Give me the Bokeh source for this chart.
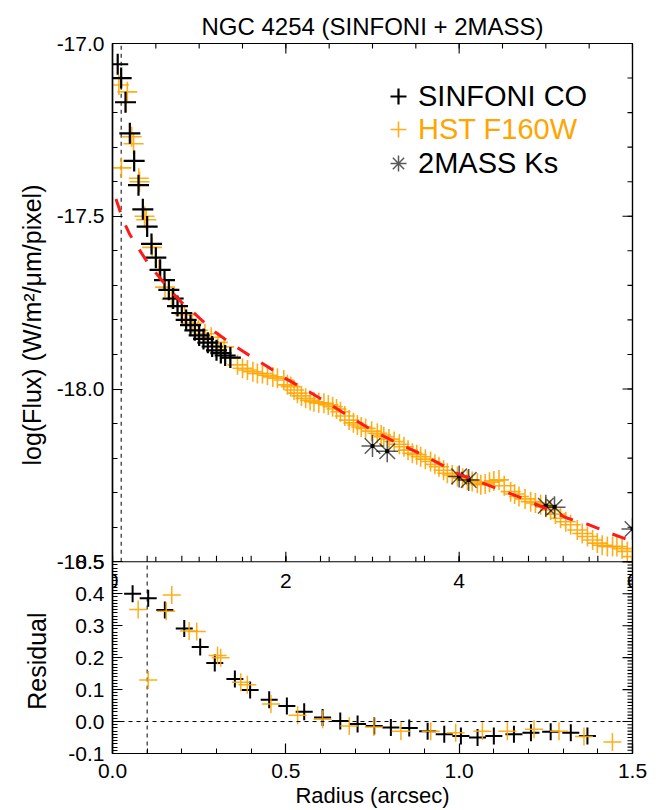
import math
from bokeh.plotting import figure
from bokeh.models import (Range1d, LinearAxis, FixedTicker, PrintfTickFormatter,
                          Span, Legend, LegendItem, GridBox, Label, Title)
from bokeh.embed import file_html
from bokeh.resources import INLINE

FONT = "Liberation Sans"
ORANGE = "#ffa500"
RED = "#ff1a1a"

# ---------------- data ----------------
# SINFONI CO surface brightness (top panel)
sinf_r = [0.06, 0.10, 0.15, 0.20, 0.25, 0.30, 0.35, 0.40, 0.45, 0.50, 0.55, 0.60,
          0.65, 0.70, 0.75, 0.80, 0.85, 0.90, 0.95, 1.00, 1.05, 1.10, 1.15, 1.20,
          1.25, 1.30, 1.36]
sinf_logf = [-17.06, -17.10, -17.17, -17.26, -17.34, -17.41, -17.48, -17.53, -17.58,
             -17.62, -17.655, -17.685, -17.713, -17.738, -17.76, -17.78, -17.80,
             -17.815, -17.83, -17.845, -17.855, -17.866, -17.877, -17.888, -17.896,
             -17.903, -17.909]

# HST F160W surface brightness (top panel)
hst_r = [0.074, 0.103, 0.155, 0.171, 0.221, 0.243, 0.303, 0.312, 0.370, 0.389, 0.457,
         0.534, 0.606, 0.683, 0.754, 0.832, 0.918, 0.990, 1.067, 1.139, 1.216, 1.288,
         1.360, 1.442, 1.50, 1.557, 1.62, 1.672, 1.73, 1.788, 1.85, 1.903, 1.977,
         2.018, 2.056, 2.095, 2.134, 2.18, 2.229, 2.28, 2.325, 2.38, 2.44, 2.49, 2.54,
         2.585, 2.63, 2.68, 2.73, 2.78, 2.826, 2.87, 2.92, 2.99, 3.056, 3.10, 3.13,
         3.19, 3.25, 3.31, 3.363, 3.41, 3.46, 3.51, 3.556, 3.61, 3.67, 3.72, 3.767,
         3.82, 3.864, 3.92, 3.98, 4.04, 4.095, 4.15, 4.21, 4.25, 4.30, 4.35, 4.40,
         4.46, 4.52, 4.594, 4.64, 4.69, 4.76, 4.825, 4.88, 4.94, 5.00, 5.055, 5.11,
         5.17, 5.23, 5.286, 5.363, 5.42, 5.48, 5.54, 5.594, 5.65, 5.71, 5.77, 5.82,
         5.88, 5.94, 6.00]
hst_logf = [-17.12, -17.36, -17.17, -17.14, -17.27, -17.29, -17.39, -17.40, -17.50,
            -17.51, -17.59, -17.655, -17.705, -17.74, -17.76, -17.785, -17.81, -17.83,
            -17.84, -17.85, -17.865, -17.878, -17.91, -17.93, -17.94, -17.945, -17.95,
            -17.955, -17.955, -17.96, -17.965, -17.969, -17.974, -17.988, -17.993,
            -18.003, -18.012, -18.02, -18.027, -18.033, -18.037, -18.04, -18.041,
            -18.046, -18.051, -18.058, -18.066, -18.078, -18.09, -18.098, -18.104,
            -18.11, -18.114, -18.122, -18.128, -18.133, -18.138, -18.145, -18.152,
            -18.16, -18.167, -18.177, -18.186, -18.19, -18.196, -18.203, -18.21,
            -18.218, -18.225, -18.235, -18.244, -18.249, -18.253, -18.258, -18.263,
            -18.268, -18.273, -18.277, -18.275, -18.27, -18.266, -18.263, -18.28,
            -18.297, -18.304, -18.311, -18.318, -18.326, -18.33, -18.335, -18.342,
            -18.35, -18.362, -18.374, -18.384, -18.393, -18.408, -18.418, -18.427,
            -18.437, -18.446, -18.452, -18.456, -18.456, -18.456, -18.462, -18.47,
            -18.485]

# 2MASS Ks surface brightness (top panel)
tmass_r = [3.00, 3.17, 4.00, 4.11, 5.00, 5.10, 6.00]
tmass_logf = [-18.165, -18.18, -18.253, -18.263, -18.338, -18.342, -18.405]

# model profile (red dashed line)
model_r = [0.04, 0.08, 0.12, 0.20, 0.30, 0.40, 0.50, 0.60, 0.70, 0.80, 0.90, 1.00,
           1.20, 1.40, 1.60, 1.80, 2.00, 2.25, 2.50, 2.75, 3.00, 3.25, 3.50, 3.75,
           4.00, 4.25, 4.50, 4.75, 5.00, 5.25, 5.50, 5.75, 6.00]
model_logf = [-17.45, -17.48, -17.51, -17.553, -17.593, -17.632, -17.664, -17.695,
              -17.724, -17.75, -17.77, -17.794, -17.838, -17.874, -17.906, -17.937,
              -17.97, -18.005, -18.043, -18.082, -18.12, -18.152, -18.181, -18.213,
              -18.247, -18.27, -18.294, -18.318, -18.346, -18.374, -18.393, -18.418,
              -18.441]

# residuals (bottom panel)
res_sinf_r = [0.058, 0.103, 0.151, 0.207, 0.253, 0.295, 0.353, 0.397, 0.452, 0.503,
              0.553, 0.606, 0.657, 0.707, 0.755, 0.803, 0.856, 0.909, 0.957, 1.005,
              1.053, 1.100, 1.158, 1.207, 1.264, 1.322, 1.370]
res_sinf = [0.400, 0.386, 0.349, 0.291, 0.233, 0.183, 0.133, 0.099, 0.068, 0.049,
            0.031, 0.013, 0.002, -0.008, -0.014, -0.019, -0.020, -0.030, -0.040,
            -0.045, -0.050, -0.045, -0.040, -0.035, -0.032, -0.035, -0.045]
res_hst_r = [0.074, 0.103, 0.155, 0.171, 0.221, 0.243, 0.303, 0.312, 0.370, 0.389,
             0.457, 0.534, 0.606, 0.683, 0.754, 0.832, 0.918, 0.990, 1.067, 1.139,
             1.216, 1.288, 1.360, 1.442]
res_hst = [0.351, 0.130, 0.345, 0.396, 0.283, 0.282, 0.207, 0.200, 0.123, 0.115,
           0.055, 0.020, 0.007, -0.014, -0.017, -0.030, -0.030, -0.035, -0.030,
           -0.030, -0.024, -0.030, -0.047, -0.064]

psf_radius = 0.1
zero_level = 0.0

# ticks / labels
top_x_range = (0.0, 6.0)
top_y_range = (-18.5, -17.0)
res_x_range = (0.0, 1.5)
res_y_range = (-0.1, 0.5)
top_xticks = [0, 2, 4, 6]
top_xtick_labels = ["0", "2", "4", "6"]
top_xminor = [0.5 * i for i in range(13)]
top_yticks = [-18.5, -18.0, -17.5, -17.0]
top_yminor = [round(-18.5 + 0.1 * i, 2) for i in range(16)]
res_xticks = [0.0, 0.5, 1.0, 1.5]
res_xminor = [round(0.1 * i, 2) for i in range(16)]
res_yticks = [-0.1, 0.0, 0.1, 0.2, 0.3, 0.4, 0.5]
res_yminor = [round(-0.1 + 0.01 * i, 3) for i in range(61)]

TITLE = "NGC 4254 (SINFONI + 2MASS)"
YLABEL_TOP = "log(Flux) (W/m²/μm/pixel)"
YLABEL_RES = "Residual"
XLABEL = "Radius (arcsec)"

TICK_FS = "21px"
LABEL_FS = "22px"
YLABEL_FS = "25px"

# ---------------- layout constants (pixels) ----------------
W, H = 663, 810
FRAME_L, FRAME_R, FRAME_T, FRAME_B = 112, 632, 43, 754
SPLIT = 562                       # boundary between the two panels
H_TOP = SPLIT - FRAME_T
H_RES = FRAME_B - SPLIT
YLABEL_TOP_END = 184              # upper end of the rotated y labels (px)
YLABEL_RES_END = 612

# extend each panel's y range so both figures share one frame
top_scale = (top_y_range[1] - top_y_range[0]) / H_TOP
res_scale = (res_y_range[1] - res_y_range[0]) / H_RES
top_y_full = (top_y_range[0] - H_RES * top_scale, top_y_range[1])
res_y_full = (res_y_range[0], res_y_range[1] + H_TOP * res_scale)


def make_axis(ticks, minor, fmt, label=None, standoff=8, label_standoff=10):
    ax = LinearAxis(ticker=FixedTicker(ticks=ticks, minor_ticks=minor),
                    formatter=PrintfTickFormatter(format=fmt))
    ax.major_tick_in = 10
    ax.major_tick_out = 0
    ax.minor_tick_in = 5
    ax.minor_tick_out = 0
    ax.axis_line_color = "black"
    ax.axis_line_width = 1.2
    ax.major_tick_line_color = "black"
    ax.minor_tick_line_color = "black"
    ax.major_tick_line_width = 1.2
    ax.minor_tick_line_width = 1.0
    ax.major_label_text_font = FONT
    ax.major_label_text_font_size = TICK_FS
    ax.major_label_text_color = "black"
    ax.major_label_standoff = standoff
    if label:
        ax.axis_label = label
        ax.axis_label_text_font = FONT
        ax.axis_label_text_font_size = LABEL_FS
        ax.axis_label_text_font_style = "normal"
        ax.axis_label_text_color = "black"
        ax.axis_label_standoff = label_standoff
    return ax


def side_title(text, end_px, standoff):
    return Title(text=text, align="right", offset=end_px - FRAME_T,
                 vertical_align="bottom", standoff=standoff, text_font=FONT,
                 text_font_size=YLABEL_FS, text_font_style="normal",
                 text_color="black")


def tick_rays(p, xs, ys, angle, length):
    p.ray(x=xs, y=ys, angle=angle, length=length, length_units="screen",
          line_color="black", line_width=1.1)


def base_figure(xr, yr, transparent):
    p = figure(width=W, height=H, x_range=Range1d(*xr), y_range=Range1d(*yr),
               output_backend="svg", toolbar_location=None,
               x_axis_location=None, y_axis_location=None,
               min_border_left=FRAME_L, min_border_right=W - FRAME_R,
               min_border_top=FRAME_T, min_border_bottom=H - FRAME_B)
    p.grid.visible = False
    p.outline_line_color = "black"
    p.outline_line_width = 1.2
    if transparent:
        p.background_fill_color = None
        p.border_fill_color = None
    else:
        p.background_fill_color = "white"
        p.border_fill_color = "white"
    return p


# ---------------- top panel ----------------
top = base_figure(top_x_range, top_y_full, transparent=False)
top.title.text = TITLE
top.title.align = "center"
top.title.standoff = 8
top.title.text_font = FONT
top.title.text_font_size = "24px"
top.title.text_font_style = "normal"
top.title.text_color = "black"

top.add_layout(make_axis(top_yticks, top_yminor, "%.1f", standoff=8), "left")
top.add_layout(side_title(YLABEL_TOP, YLABEL_TOP_END, 16), "left")
for t, s in zip(top_xticks, top_xtick_labels):
    top.add_layout(Label(x=t, y=top_y_range[0], text=s, text_align="center",
                         text_baseline="top", y_offset=-12, text_font=FONT,
                         text_font_size=TICK_FS, text_color="black"))

# panel separator and inward ticks of the top panel
top.add_layout(Span(location=top_y_range[0], dimension="width", line_color="black",
                    line_width=1.2))
tick_rays(top, top_xticks, top_y_range[1], -math.pi / 2, 10)
tick_rays(top, top_xminor, top_y_range[1], -math.pi / 2, 5)
tick_rays(top, top_xticks, top_y_range[0], math.pi / 2, 10)
tick_rays(top, top_xminor, top_y_range[0], math.pi / 2, 5)
tick_rays(top, top_x_range[1], top_yticks, math.pi, 10)
tick_rays(top, top_x_range[1], top_yminor, math.pi, 5)

top.line([psf_radius, psf_radius], list(top_y_range), line_color="black",
         line_dash="4 4", line_width=1)

r_hst = top.scatter(hst_r, hst_logf, marker="cross", size=20, line_color=ORANGE,
                    line_width=1.6, line_alpha=0.9)
r_sinf = top.scatter(sinf_r, sinf_logf, marker="cross", size=21, line_color="black",
                     line_width=2.2)
r_2m = top.scatter(tmass_r, tmass_logf, marker="asterisk", size=22, line_color="black",
                   line_alpha=0.65, line_width=1.5)
top.scatter(tmass_r, tmass_logf, marker="square", size=3, fill_color="black",
            line_color="black")
top.line(model_r, model_logf, line_color=RED, line_width=3, line_dash="14 14")

legend_specs = [("SINFONI CO", r_sinf, "black", 97),
                ("HST F160W", r_hst, ORANGE, 130),
                ("2MASS Ks", r_2m, "black", 164)]
GLYPH = 40
LEG_X = 398
for lab, rend, col, cy in legend_specs:
    lg = Legend(items=[LegendItem(label=lab, renderers=[rend])],
                location=(LEG_X - GLYPH // 2 - FRAME_L, FRAME_B - (cy + GLYPH // 2)),
                border_line_color=None, background_fill_alpha=0, padding=0, margin=0,
                spacing=0, glyph_width=GLYPH, glyph_height=GLYPH, label_standoff=0,
                label_text_font=FONT, label_text_font_size="29px",
                label_text_color=col, label_height=GLYPH)
    top.add_layout(lg)

# ---------------- residual panel ----------------
bot = base_figure(res_x_range, res_y_full, transparent=True)
bot.add_layout(make_axis(res_yticks, res_yminor, "%.1f", standoff=8), "left")
bot.add_layout(side_title(YLABEL_RES, YLABEL_RES_END, 30), "left")
bot.add_layout(make_axis(res_xticks, res_xminor, "%.1f", label=XLABEL,
                         standoff=10, label_standoff=2), "below")
tick_rays(bot, res_xminor, res_y_range[1], math.pi / 2, 6)
tick_rays(bot, res_x_range[1], res_yticks, math.pi, 10)
tick_rays(bot, res_x_range[1], res_yminor, math.pi, 5)

bot.line([psf_radius, psf_radius], list(res_y_range), line_color="black",
         line_dash="4 4", line_width=1)
bot.add_layout(Span(location=zero_level, dimension="width", line_color="black",
                    line_dash="4 4", line_width=1))

bot.scatter(res_sinf_r, res_sinf, marker="cross", size=17, line_color="black",
            line_width=2.0)
bot.scatter(res_hst_r, res_hst, marker="cross", size=18, line_color=ORANGE,
            line_width=1.5, line_alpha=0.9)

layout = GridBox(children=[(top, 0, 0), (bot, 0, 0)])

open("out.html", "w").write(file_html(layout, INLINE))
